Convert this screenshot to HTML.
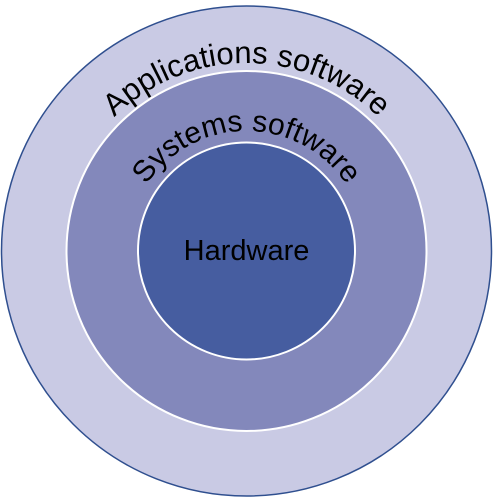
<!DOCTYPE html>
<html><head><style>html,body{margin:0;padding:0;background:#fff;}svg{display:block}</style></head>
<body>
<svg width="493" height="502" viewBox="0 0 493 502" xmlns="http://www.w3.org/2000/svg">
<defs>
<path id="a1" d="M 246.5 251 m -188 0 a 188 188 0 0 1 376 0"/>
<path id="a2" d="M 246.5 251 m -120 0 a 120 120 0 0 1 240 0"/>
</defs>
<circle cx="246.5" cy="251" r="245" fill="#c9cae4" stroke="#2f4f8f" stroke-width="1.5"/>
<circle cx="246.5" cy="251" r="180" fill="#8388bb" stroke="#fff" stroke-width="2"/>
<circle cx="246.5" cy="251" r="108.5" fill="#465da0" stroke="#fff" stroke-width="2"/>
<text font-family="Liberation Sans, sans-serif" font-size="31" fill="#000"><textPath href="#a1" startOffset="50%" text-anchor="middle">Applications software</textPath></text>
<text font-family="Liberation Sans, sans-serif" font-size="30" fill="#000"><textPath href="#a2" startOffset="50%" text-anchor="middle">Systems software</textPath></text>
<text x="246.5" y="260" font-family="Liberation Sans, sans-serif" font-size="29" text-anchor="middle" fill="#000">Hardware</text>
</svg>
</body></html>
